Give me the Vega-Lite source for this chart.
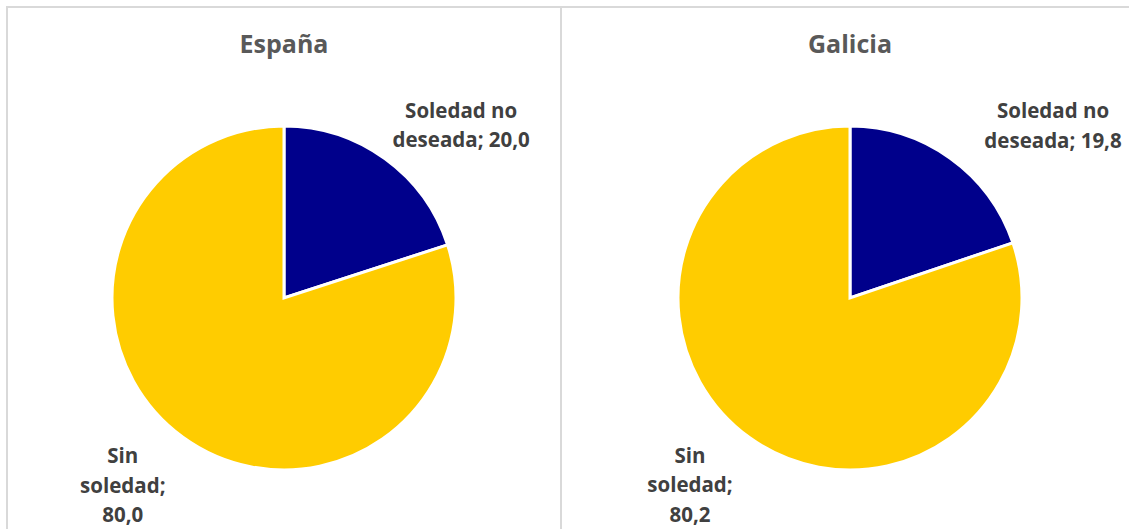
{
  "$schema": "https://vega.github.io/schema/vega-lite/v6.json",
  "padding": {"left": 6, "top": 6, "right": 0, "bottom": 0},
  "background": "white",
  "spacing": 0,
  "bounds": "flush",
  "data": {
    "values": [
      {"region": "España", "categoria": "Soledad no deseada", "valor": 20.0, "etiqueta": "Soledad no\ndeseada; 20,0"},
      {"region": "España", "categoria": "Sin soledad", "valor": 80.0, "etiqueta": "Sin\nsoledad;\n80,0"},
      {"region": "Galicia", "categoria": "Soledad no deseada", "valor": 19.8, "etiqueta": "Soledad no\ndeseada; 19,8"},
      {"region": "Galicia", "categoria": "Sin soledad", "valor": 80.2, "etiqueta": "Sin\nsoledad;\n80,2"}
    ]
  },
  "hconcat": [
    {
      "width": 554,
      "height": 582,
      "title": {"text": "España", "offset": -72, "baseline": "alphabetic", "frame": "group", "anchor": "middle", "font": "Open Sans", "fontSize": 25, "fontWeight": "bold", "color": "#595959"},
      "transform": [{"filter": "datum.region == 'España'"}],
      "layer": [
        {
          "mark": {"type": "rect", "fill": null, "stroke": "#d9d9d9", "strokeWidth": 2},
          "encoding": {}
        },
        {
          "mark": {"type": "arc", "outerRadius": 172, "stroke": "white", "strokeWidth": 3},
          "encoding": {
            "theta": {"field": "valor", "type": "quantitative", "stack": true},
            "color": {"field": "categoria", "type": "nominal", "scale": {"domain": ["Soledad no deseada", "Sin soledad"], "range": ["#00008B", "#FFCC00"]}, "legend": null},
            "order": {"field": "categoria", "sort": "descending"}
          }
        },
        {
          "mark": {"type": "text", "radius": 230, "font": "Open Sans", "fontSize": 20.5, "fontWeight": "bold", "color": "#404040", "align": "center", "baseline": "middle", "lineBreak": "\n", "lineHeight": 29.5,
            "dx": {"expr": "datum.categoria == 'Sin soledad' ? -26 : 42"},
            "dy": {"expr": "datum.categoria == 'Sin soledad' ? -27 : 0"}},
          "encoding": {
            "theta": {"field": "valor", "type": "quantitative", "stack": true},
            "order": {"field": "categoria", "sort": "descending"},
            "detail": {"field": "categoria", "type": "nominal"},
            "text": {"field": "etiqueta", "type": "nominal"}
          }
        }
      ]
    },
    {
      "width": 578,
      "height": 582,
      "title": {"text": "Galicia", "offset": -72, "baseline": "alphabetic", "frame": "group", "anchor": "middle", "font": "Open Sans", "fontSize": 25, "fontWeight": "bold", "color": "#595959"},
      "transform": [{"filter": "datum.region == 'Galicia'"}],
      "layer": [
        {
          "mark": {"type": "rule", "stroke": "#d9d9d9", "strokeWidth": 2},
          "encoding": {"y": {"datum": 1, "type": "quantitative", "scale": {"domain": [0, 1]}, "axis": null}}
        },
        {
          "mark": {"type": "arc", "outerRadius": 172, "stroke": "white", "strokeWidth": 3},
          "encoding": {
            "theta": {"field": "valor", "type": "quantitative", "stack": true},
            "color": {"field": "categoria", "type": "nominal", "scale": {"domain": ["Soledad no deseada", "Sin soledad"], "range": ["#00008B", "#FFCC00"]}, "legend": null},
            "order": {"field": "categoria", "sort": "descending"}
          }
        },
        {
          "mark": {"type": "text", "radius": 230, "font": "Open Sans", "fontSize": 20.5, "fontWeight": "bold", "color": "#404040", "align": "center", "baseline": "middle", "lineBreak": "\n", "lineHeight": 29.5,
            "dx": {"expr": "datum.categoria == 'Sin soledad' ? -26 : 69"},
            "dy": {"expr": "datum.categoria == 'Sin soledad' ? -28 : 1"}},
          "encoding": {
            "theta": {"field": "valor", "type": "quantitative", "stack": true},
            "order": {"field": "categoria", "sort": "descending"},
            "detail": {"field": "categoria", "type": "nominal"},
            "text": {"field": "etiqueta", "type": "nominal"}
          }
        }
      ]
    }
  ],
  "config": {
    "view": {"stroke": null}
  }
}
